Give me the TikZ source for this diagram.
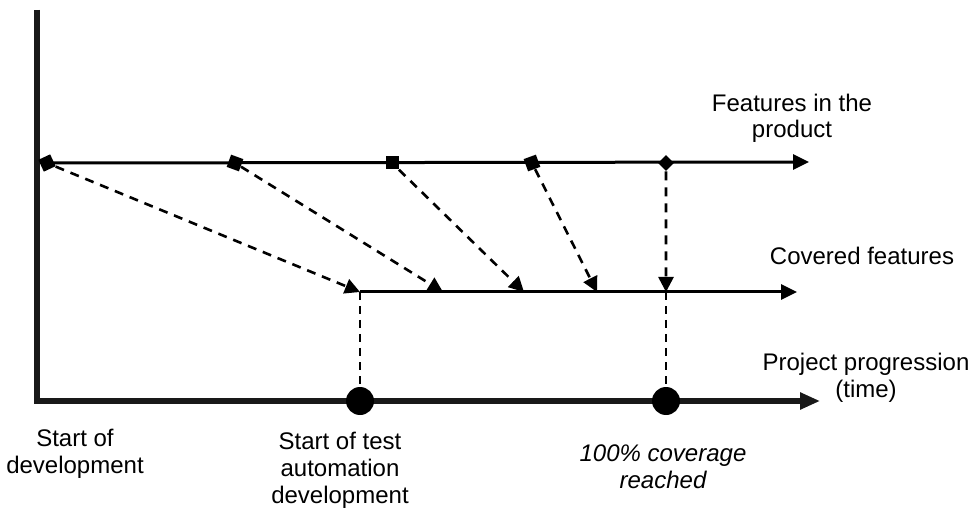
\documentclass[tikz,border=0pt]{standalone}
\usepackage{fontspec}
\setmainfont{Liberation Sans}
\usetikzlibrary{arrows.meta}
\tikzset{
  feat/.style={fill=black,draw=none,minimum size=6.5pt,inner sep=0pt,rectangle},
  dot/.style={fill=black,circle,minimum size=14pt,inner sep=0pt},
  cover/.style={line width=1.3pt,dash pattern=on 4.5pt off 3.5pt,-{Triangle[length=7.5pt,width=7.5pt]}},
  drop/.style={line width=1pt,dash pattern=on 4pt off 3pt},
  lbl/.style={align=center,inner sep=0pt,anchor=base,font=\fontsize{12}{13.4}\selectfont}
}
\begin{document}
\begin{tikzpicture}[x=0.5pt,y=-0.5pt]
    \useasboundingbox (0,0) rectangle (977,512);
    \coordinate (o) at (37,401);
    \coordinate (ytop) at (37,10);
    \coordinate (xtip) at (820,401);
    \draw [line width=3pt,color=black!35,shift={(2.5,3)},-{Triangle[length=10pt,width=8pt]}] (ytop) -- (o) -- (xtip);
    \draw [line width=3pt,color=black!90,-{Triangle[length=10pt,width=8pt]}] (ytop) -- (o) -- (xtip);
    \node [feat,rotate=25] (f1) at (47,163) {};
    \node [feat,rotate=-20] (f2) at (235,163) {};
    \node [feat] (f3) at (392,163) {};
    \node [feat,rotate=20] (f4) at (532,163) {};
    \node [feat,rotate=45,minimum size=5.5pt] (f5) at (666,163) {};
    \coordinate (ftip) at (809,162);
    \draw [line width=1.5pt,-{Triangle[length=8pt,width=7.5pt]}] (f1.center) -- (ftip);
    \coordinate (c1) at (360,292);
    \coordinate (c2) at (443,292);
    \coordinate (c3) at (524,292);
    \coordinate (c4) at (597,292);
    \coordinate (c5) at (666,292);
    \coordinate (ctip) at (797,292);
    \draw [line width=1.5pt,-{Triangle[length=8pt,width=7.5pt]}] (c1) -- (ctip);
    \draw [cover] (f1) -- (c1);
    \draw [cover] (f2) -- (c2);
    \draw [cover] (f3) -- (c3);
    \draw [cover] (f4) -- (c4);
    \draw [cover] (f5) -- (c5);
    \node [dot] (s1) at (360,401) {};
    \node [dot] (s2) at (666,401) {};
    \draw [drop] (c1) -- (s1);
    \draw [drop] (c5) -- (s2);
    \node [lbl] (lblfeat) at (792,138) {Features in the\\product};
    \node [lbl] (lblcov) at (862,265) {Covered features};
    \node [lbl] (lblprog) at (866,397) {Project progression\\(time)};
    \node [lbl] (lblstart) at (75,473) {Start of\\development};
    \node [lbl] (lbltest) at (340,503) {Start of test\\automation\\development};
    \node [lbl,font=\fontsize{12}{13.4}\selectfont\itshape] (lblfull) at (663,488) {100\% coverage\\reached};
\end{tikzpicture}
\end{document}
